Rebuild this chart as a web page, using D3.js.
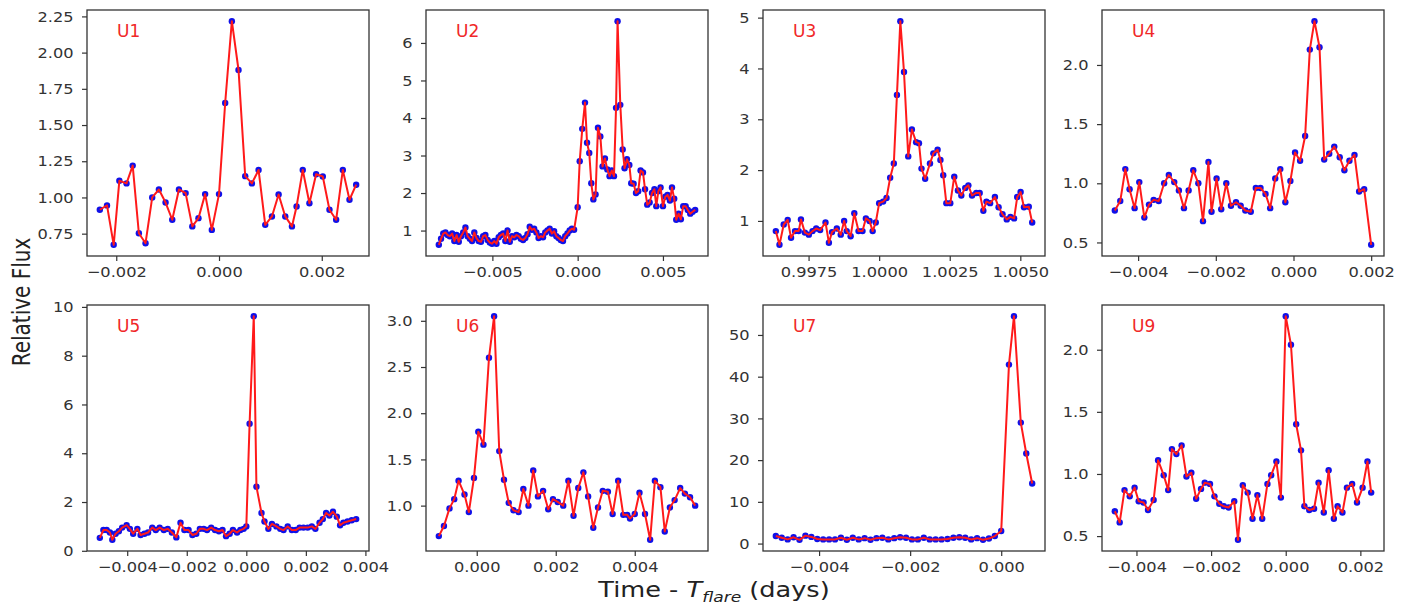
<!DOCTYPE html>
<html>
<head>
<meta charset="utf-8">
<script src="https://cdn.jsdelivr.net/npm/d3@7"></script>
<style>
  body { margin: 0; background: #fff; }
  text { font-family: "DejaVu Sans", sans-serif; }
</style>
</head>
<body>
<svg id="chart" width="1408" height="612"></svg>
<script>
// flare light curves, time relative to flare start (days) and relative flux
const u1Time = [-0.00232, -0.00218, -0.00205, -0.00194, -0.0018, -0.00168, -0.00156, -0.00143, -0.0013, -0.00117, -0.00104, -0.00091, -0.00078, -0.00065, -0.00052, -0.0004, -0.00027, -0.00014, 0.0, 0.00012, 0.00025, 0.00038, 0.00051, 0.00064, 0.00077, 0.0009, 0.00103, 0.00116, 0.00129, 0.00142, 0.00151, 0.00163, 0.00176, 0.00189, 0.00202, 0.00215, 0.00228, 0.00241, 0.00254, 0.00267]
const u1Flux = [0.915, 0.945, 0.673, 1.115, 1.097, 1.22, 0.753, 0.684, 1.0, 1.055, 0.965, 0.846, 1.055, 1.03, 0.80, 0.857, 1.023, 0.776, 1.023, 1.652, 2.217, 1.88, 1.147, 1.097, 1.19, 0.811, 0.869, 1.02, 0.869, 0.80, 0.938, 1.19, 0.96, 1.16, 1.145, 0.915, 0.846, 1.19, 0.984, 1.088]

const u2Time = [-0.00814, -0.00801, -0.00788, -0.00775, -0.00762, -0.00749, -0.00736, -0.00723, -0.0071, -0.00697, -0.00684, -0.00671, -0.00658, -0.00645, -0.00632, -0.00619, -0.00606, -0.00593, -0.0058, -0.00567, -0.00554, -0.00541, -0.00528, -0.00515, -0.00502, -0.00489, -0.00476, -0.00463, -0.0045, -0.00437, -0.00424, -0.00411, -0.00398, -0.00385, -0.00372, -0.00359, -0.00346, -0.00333, -0.0032, -0.00307, -0.00294, -0.00281, -0.00268, -0.00255, -0.00242, -0.00229, -0.00216, -0.00203, -0.0019, -0.00177, -0.00164, -0.00151, -0.00138, -0.00125, -0.00112, -0.00099, -0.00086, -0.00073, -0.0006, -0.00047, -0.00034, -0.00021,
  0.0, 0.00012, 0.00027, 0.00043, 0.00055, 0.00068, 0.0008, 0.00092, 0.00105, 0.00119, 0.00133, 0.00146, 0.0016, 0.00174, 0.00187, 0.002, 0.00213, 0.00225, 0.00234, 0.0025, 0.00264, 0.00275, 0.00289, 0.00303, 0.00314, 0.00328, 0.00342, 0.00355, 0.00369, 0.00383, 0.00395, 0.00408, 0.00422, 0.00436, 0.0045, 0.00461, 0.00473, 0.00486, 0.005, 0.00514, 0.00527, 0.00541, 0.00553, 0.00566, 0.00578, 0.00592, 0.00605, 0.00619, 0.00633, 0.00646, 0.0066, 0.00674, 0.00689]
const u2Flux = [0.62, 0.78, 0.92, 0.95, 0.88, 0.85, 0.92, 0.72, 0.88, 0.7, 0.85, 0.95, 1.08, 0.85, 0.78, 0.72, 0.95, 0.8, 0.72, 0.7, 0.85, 0.88, 0.75, 0.68, 0.65, 0.72, 0.65, 0.82, 0.88, 0.92, 0.72, 1.0, 0.7, 0.85, 0.82, 0.88, 0.85, 0.78, 0.75, 0.8, 0.9, 1.1, 1.02, 1.05, 0.95, 0.8, 0.85, 0.82, 0.95, 1.0, 1.05, 0.92, 0.98, 0.85, 0.8, 0.75, 0.72, 0.85, 0.92, 1.0, 1.05, 1.02,
  1.62, 2.85, 3.71, 4.41, 3.34, 3.07, 2.26, 1.83, 1.96, 3.74, 3.51, 2.71, 2.92, 2.63, 2.45, 2.6, 2.45, 4.27, 6.58, 4.35, 3.16, 2.66, 2.9, 2.75, 2.26, 2.25, 2.0, 2.05, 2.6, 2.55, 2.1, 1.69, 1.75, 2.0, 2.1, 1.65, 2.05, 2.15, 1.65, 1.9, 1.95, 1.8, 2.15, 1.85, 1.29, 1.45, 1.3, 1.65, 1.65, 1.55, 1.45, 1.5, 1.55]

const u3Time = [0.99634, 0.99647, 0.99662, 0.99676, 0.99688, 0.99702, 0.99715, 0.99723, 0.99737, 0.99751, 0.99764, 0.99777, 0.99791, 0.9981, 0.99822, 0.99833, 0.9985, 0.99864, 0.99876, 0.99885, 0.99899, 0.99912, 0.99927, 0.99941, 0.99953, 0.99966, 0.99977, 0.99988, 1.0, 1.00014, 1.00026, 1.00039, 1.00052, 1.00063, 1.00075, 1.00088, 1.00103, 1.00116, 1.00131, 1.00141, 1.0015, 1.00163, 1.0018, 1.00192, 1.00207, 1.00217, 1.00227, 1.00238, 1.00252, 1.00266, 1.00279, 1.00291, 1.00305, 1.00316, 1.00329, 1.00344, 1.00356, 1.00369, 1.0038, 1.00393, 1.0041, 1.00423, 1.00437, 1.00452, 1.00465, 1.00478, 1.00489, 1.00501, 1.00513, 1.0053, 1.00542]
const u3Flux = [0.80, 0.53, 0.93, 1.02, 0.67, 0.8, 0.8, 1.03, 0.77, 0.73, 0.8, 0.85, 0.82, 0.97, 0.57, 0.78, 0.85, 0.73, 1.0, 0.8, 0.7, 1.15, 0.8, 0.8, 1.05, 1.0, 0.8, 0.97, 1.35, 1.38, 1.45, 1.85, 2.13, 3.48, 4.93, 3.93, 2.27, 2.8, 2.55, 2.53, 2.03, 1.83, 2.13, 2.33, 2.4, 2.2, 1.9, 1.35, 1.35, 1.87, 1.6, 1.5, 1.65, 1.7, 1.5, 1.55, 1.55, 1.2, 1.38, 1.35, 1.47, 1.27, 1.13, 1.03, 1.08, 1.05, 1.47, 1.57, 1.27, 1.28, 0.97]

const u4Time = [-0.0046, -0.00446, -0.00433, -0.00422, -0.00409, -0.00397, -0.00384, -0.00372, -0.0036, -0.00347, -0.00333, -0.00321, -0.00307, -0.00295, -0.00282, -0.0027, -0.00258, -0.00245, -0.00233, -0.00219, -0.00211, -0.00198, -0.00186, -0.00173, -0.00161, -0.00148, -0.00136, -0.00124, -0.0011, -0.00097, -0.00085, -0.00072, -0.0006, -0.00047, -0.00034, -0.00021, -0.00008, 0.00004, 0.00017, 0.0003, 0.00042, 0.00054, 0.00067, 0.00079, 0.00092, 0.00105, 0.00119, 0.00131, 0.00144, 0.00157, 0.00169, 0.00182, 0.002]
const u4Flux = [0.77, 0.85, 1.12, 0.95, 0.79, 1.01, 0.71, 0.82, 0.86, 0.85, 1.0, 1.07, 1.01, 0.94, 0.79, 0.94, 1.11, 1.0, 0.68, 1.18, 0.76, 1.04, 0.78, 1.0, 0.81, 0.84, 0.81, 0.77, 0.76, 0.96, 0.96, 0.91, 0.79, 1.04, 1.12, 0.84, 1.02, 1.26, 1.19, 1.4, 2.13, 2.37, 2.15, 1.2, 1.25, 1.31, 1.22, 1.11, 1.19, 1.24, 0.93, 0.95, 0.48]

const u5Time = [-0.00492, -0.0048, -0.00469, -0.00458, -0.0045, -0.00439, -0.00428, -0.00417, -0.00402, -0.00391, -0.0038, -0.00366, -0.00355, -0.00342, -0.0033, -0.00316, -0.00304, -0.00291, -0.00277, -0.00264, -0.0025, -0.00235, -0.00221, -0.00208, -0.00194, -0.00181, -0.00168, -0.00156, -0.00143, -0.00132, -0.00118, -0.00105, -0.00092, -0.0008, -0.00068, -0.00056, -0.00045, -0.00031, -0.0002, -0.00009, 0.0, 0.00011, 0.00025, 0.00034, 0.00051, 0.00061, 0.00074, 0.00086, 0.00101, 0.00114, 0.00125, 0.00139, 0.00153, 0.00166, 0.00179, 0.00192, 0.00206, 0.0022, 0.00232, 0.00246, 0.00257, 0.00268, 0.00279, 0.00291, 0.00304, 0.00315, 0.00326, 0.0034, 0.00354, 0.00369]
const u5Flux = [0.53, 0.85, 0.85, 0.75, 0.45, 0.7, 0.8, 0.95, 1.05, 0.9, 0.7, 0.9, 0.65, 0.7, 0.75, 0.95, 0.85, 0.95, 0.85, 0.9, 0.75, 0.55, 1.15, 0.85, 0.85, 0.65, 0.7, 0.9, 0.9, 0.85, 0.95, 0.85, 0.8, 0.85, 0.6, 0.7, 0.85, 0.75, 0.85, 0.9, 1.0, 5.21, 9.62, 2.63, 1.55, 1.2, 0.9, 1.1, 1.0, 0.9, 0.85, 1.0, 0.85, 0.85, 0.95, 0.95, 0.95, 1.0, 0.9, 1.15, 1.3, 1.55, 1.45, 1.6, 1.4, 1.05, 1.15, 1.2, 1.25, 1.3]

const u6Time = [-0.00096, -0.00083, -0.00069, -0.00057, -0.00046, -0.00031, -0.0002, -0.00007, 0.00004, 0.00017, 0.00031, 0.00044, 0.00057, 0.00069, 0.00081, 0.00093, 0.00106, 0.00118, 0.00131, 0.00143, 0.00155, 0.00168, 0.00181, 0.00193, 0.00205, 0.00219, 0.00232, 0.00245, 0.00257, 0.0027, 0.00282, 0.00295, 0.00307, 0.00319, 0.00332, 0.00344, 0.00358, 0.00371, 0.00381, 0.00388, 0.004, 0.00412, 0.00426, 0.00439, 0.00451, 0.00465, 0.00476, 0.00489, 0.00501, 0.00515, 0.00527, 0.0054, 0.00553]
const u6Flux = [0.67, 0.78, 0.97, 1.07, 1.27, 1.12, 0.93, 1.3, 1.8, 1.66, 2.6, 3.05, 1.59, 1.28, 1.03, 0.95, 0.93, 1.18, 1.0, 1.38, 1.1, 1.16, 0.96, 1.07, 1.04, 1.0, 1.27, 0.89, 1.19, 1.36, 1.1, 0.76, 0.98, 1.16, 1.15, 0.91, 1.27, 0.9, 0.9, 0.86, 0.91, 1.14, 0.91, 0.63, 1.27, 1.2, 0.72, 0.98, 1.06, 1.19, 1.13, 1.09, 1.0]

const u7Time = [-0.00495, -0.00482, -0.00469, -0.00456, -0.00443, -0.0043, -0.00417, -0.00404, -0.00391, -0.00378, -0.00365, -0.00352, -0.00339, -0.00326, -0.00313, -0.003, -0.00287, -0.00274, -0.00261, -0.00248, -0.00235, -0.00222, -0.00209, -0.00196, -0.00183, -0.0017, -0.00157, -0.00144, -0.00131, -0.00118, -0.00105, -0.00092, -0.00079, -0.00066, -0.00053, -0.0004, -0.00027, -0.00014, 0.0, 0.00017, 0.00028, 0.00043, 0.00055, 0.00068]
const u7Flux = [1.8, 1.4, 1.0, 1.5, 0.9, 1.9, 1.6, 1.1, 1.0, 1.0, 1.0, 1.4, 0.9, 1.4, 1.0, 1.3, 0.9, 1.3, 1.4, 1.0, 1.3, 1.5, 1.4, 1.0, 1.0, 1.4, 1.0, 1.0, 1.0, 1.1, 1.4, 1.5, 1.4, 1.0, 1.3, 0.9, 1.2, 1.8, 3.0, 42.9, 54.5, 29.0, 21.6, 14.4]

const u9Time = [-0.00458, -0.00445, -0.00432, -0.00418, -0.00405, -0.00394, -0.00381, -0.00369, -0.00354, -0.00342, -0.00327, -0.00315, -0.00305, -0.00293, -0.00279, -0.00266, -0.00253, -0.0024, -0.00227, -0.00217, -0.00203, -0.00191, -0.00178, -0.00166, -0.00153, -0.00138, -0.00128, -0.00115, -0.00102, -0.00089, -0.00076, -0.00063, -0.00049, -0.00039, -0.00025, -0.00013, 0.0, 0.00014, 0.00028, 0.00041, 0.0005, 0.00063, 0.00076, 0.00088, 0.00102, 0.00115, 0.00129, 0.00139, 0.00152, 0.00164, 0.00178, 0.00191, 0.00206, 0.00219, 0.00229]
const u9Flux = [0.70, 0.61, 0.87, 0.82, 0.89, 0.78, 0.77, 0.71, 0.79, 1.11, 0.99, 0.87, 1.2, 1.16, 1.23, 0.98, 1.01, 0.8, 0.88, 0.93, 0.92, 0.82, 0.76, 0.74, 0.73, 0.78, 0.47, 0.91, 0.85, 0.64, 0.83, 0.64, 0.92, 0.99, 1.1, 0.81, 2.27, 2.04, 1.4, 1.19, 0.74, 0.71, 0.72, 0.93, 0.69, 1.03, 0.64, 0.74, 0.69, 0.89, 0.92, 0.77, 0.89, 1.1, 0.85]

const panelNames = ['U1', 'U2', 'U3', 'U4', 'U5', 'U6', 'U7', 'U9']
const xTickSets = [
  [-0.002, 0, 0.002],
  [-0.005, 0, 0.005],
  [0.9975, 1.0, 1.0025, 1.005],
  [-0.004, -0.002, 0, 0.002],
  [-0.004, -0.002, 0, 0.002, 0.004],
  [0, 0.002, 0.004],
  [-0.004, -0.002, 0],
  [-0.004, -0.002, 0, 0.002]
]
const yTickSets = [
  [0.75, 1.0, 1.25, 1.5, 1.75, 2.0, 2.25],
  [1, 2, 3, 4, 5, 6],
  [1, 2, 3, 4, 5],
  [0.5, 1.0, 1.5, 2.0],
  [0, 2, 4, 6, 8, 10],
  [1.0, 1.5, 2.0, 2.5, 3.0],
  [0, 10, 20, 30, 40, 50],
  [0.5, 1.0, 1.5, 2.0]
]

const series = [
  [u1Time, u1Flux], [u2Time, u2Flux], [u3Time, u3Flux], [u4Time, u4Flux],
  [u5Time, u5Flux], [u6Time, u6Flux], [u7Time, u7Flux], [u9Time, u9Flux]
]
const xFormats = ['.3f', '.3f', '.4f', '.3f', '.3f', '.3f', '.3f', '.3f']
const yFormats = ['.2f', 'd', 'd', '.1f', 'd', '.1f', 'd', '.1f']

// layout
const colX = [87, 426, 763, 1102]
const rowY = [10, 305]
const W = 282, H = 246
const ink = '#333'

const svg = d3.select('#chart')

series.forEach(([t, f], i) => {
  const n = Math.min(t.length, f.length)
  const pts = d3.range(n).map(k => ({ t: t[k], f: f[k] }))

  const g = svg.append('g')
    .attr('transform', `translate(${colX[i % 4]},${rowY[Math.floor(i / 4)]})`)

  // matplotlib style 5% auto-margins
  const tx = d3.extent(pts, d => d.t), fy = d3.extent(pts, d => d.f)
  const px = (tx[1] - tx[0]) * 0.05, py = (fy[1] - fy[0]) * 0.05
  const x = d3.scaleLinear().domain([tx[0] - px, tx[1] + px]).range([0, W])
  const y = d3.scaleLinear().domain([fy[0] - py, fy[1] + py]).range([H, 0])

  g.selectAll('circle')
    .data(pts)
    .enter()
    .append('circle')
    .attr('cx', d => x(d.t))
    .attr('cy', d => y(d.f))
    .attr('r', 3.2)
    .attr('fill', '#1010e8')

  g.append('path')
    .datum(pts)
    .attr('fill', 'none')
    .attr('stroke', '#ff1a1a')
    .attr('stroke-width', 2)
    .attr('stroke-linejoin', 'round')
    .attr('d', d3.line().x(d => x(d.t)).y(d => y(d.f)))

  const xAxis = g.append('g')
    .attr('transform', `translate(0,${H})`)
    .call(d3.axisBottom(x).tickValues(xTickSets[i]).tickFormat(d3.format(xFormats[i]))
      .tickSize(5).tickSizeOuter(0).tickPadding(6))
  const yAxis = g.append('g')
    .call(d3.axisLeft(y).tickValues(yTickSets[i]).tickFormat(d3.format(yFormats[i]))
      .tickSize(5).tickSizeOuter(0).tickPadding(7))

  for (const ax of [xAxis, yAxis]) {
    ax.select('.domain').remove()
    ax.selectAll('line').attr('stroke', ink).attr('stroke-width', 1.2)
    ax.selectAll('text')
      .attr('fill', ink)
      .attr('transform', 'scale(1.12,1)')
      .style('font-size', '14.5px')
      .style('font-family', '"DejaVu Sans", sans-serif')
  }

  g.append('rect')
    .attr('width', W)
    .attr('height', H)
    .attr('fill', 'none')
    .attr('stroke', ink)
    .attr('stroke-width', 1.3)

  g.append('text')
    .attr('x', 30)
    .attr('y', 27)
    .attr('fill', '#f02828')
    .style('font-size', '17px')
    .text(panelNames[i])
})

svg.append('text')
  .attr('transform', 'translate(30,302) scale(1.25,1) rotate(-90)')
  .attr('text-anchor', 'middle')
  .attr('fill', '#222')
  .style('font-size', '20px')
  .text('Relative Flux')

const xl = svg.append('text')
  .attr('transform', 'translate(714,597) scale(1.22,1)')
  .attr('text-anchor', 'middle')
  .attr('fill', '#222')
  .style('font-size', '21px')
xl.append('tspan').text('Time - ')
xl.append('tspan').style('font-style', 'italic').text('T')
xl.append('tspan').attr('dy', 5).style('font-style', 'italic').style('font-size', '14px').text('flare')
xl.append('tspan').attr('dy', -5).text(' (days)')
</script>
</body>
</html>
